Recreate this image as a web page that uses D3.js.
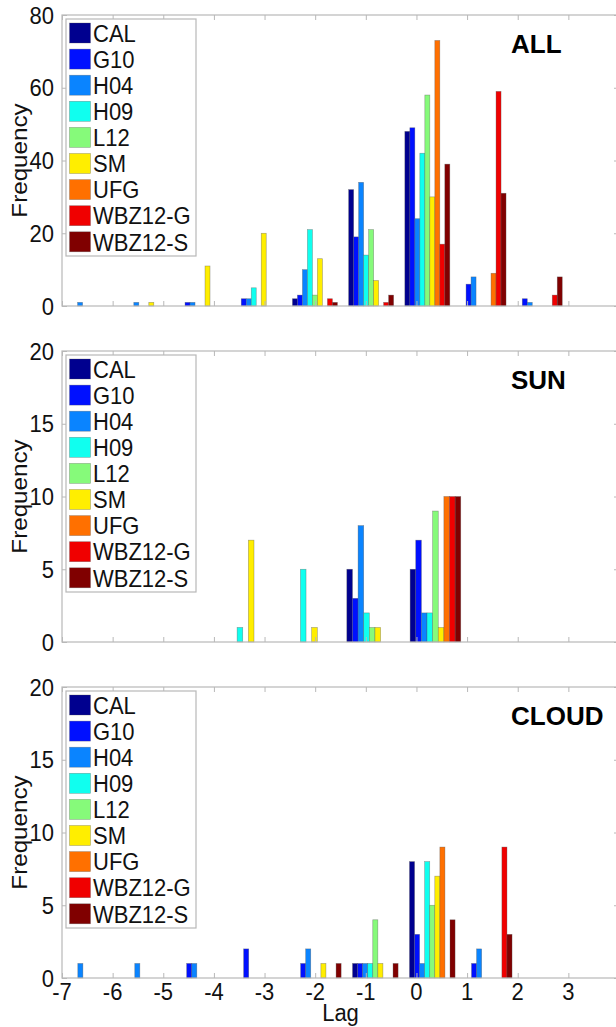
<!DOCTYPE html>
<html>
<head>
<meta charset="utf-8">
<script src="https://cdn.jsdelivr.net/npm/d3@7"></script>
<style>
  html, body { margin: 0; padding: 0; background: #fff; }
  svg { display: block; }
  text { font-family: "Liberation Sans", Arial, sans-serif; }
</style>
</head>
<body>
<svg id="chart" width="616" height="1027"></svg>
<script>
// ---------- DATA ----------
const seriesNames = ["CAL", "G10", "H04", "H09", "L12", "SM", "UFG", "WBZ12-G", "WBZ12-S"];
const seriesColors = ["#00008F", "#0010FF", "#0A84FF", "#10FFEF", "#86FA7A", "#FFEE00", "#FF7000", "#F00000", "#800000"];

const xTickValues = [-7, -6, -5, -4, -3, -2, -1, 0, 1, 2, 3, 4];
const xTickLabels = ["-7", "-6", "-5", "-4", "-3", "-2", "-1", "0", "1", "2", "3", ""];

// ALL panel: histogram bin centres and counts per series (rows follow seriesNames)
const allBins = [-6.445, -5.335, -4.225, -3.115, -2.005, -0.895, 0.215, 1.325, 2.435, 3.545];
const allCounts = [
  [0, 0, 0, 0, 2, 32, 48, 0, 0, 0],   // CAL
  [0, 0, 1, 2, 3, 19, 49, 6, 2, 0],   // G10
  [1, 1, 1, 2, 10, 34, 24, 8, 1, 0],  // H04
  [0, 0, 0, 5, 21, 14, 42, 0, 0, 0],  // H09
  [0, 0, 0, 0, 3, 21, 58, 0, 0, 0],   // L12
  [0, 1, 11, 20, 13, 7, 30, 0, 0, 0], // SM
  [0, 0, 0, 0, 0, 0, 73, 9, 0, 0],    // UFG
  [0, 0, 0, 0, 2, 1, 17, 59, 3, 0],   // WBZ12-G
  [0, 0, 0, 0, 1, 3, 39, 31, 8, 0]    // WBZ12-S
];
const allYTicks = [0, 20, 40, 60, 80];

// SUN panel
const sunBins = [-3.375, -2.125, -0.875, 0.375];
const sunCounts = [
  [0, 0, 5, 5],   // CAL
  [0, 0, 3, 7],   // G10
  [0, 0, 8, 2],   // H04
  [1, 5, 2, 2],   // H09
  [0, 0, 1, 9],   // L12
  [7, 1, 1, 1],   // SM
  [0, 0, 0, 10],  // UFG
  [0, 0, 0, 10],  // WBZ12-G
  [0, 0, 0, 10]   // WBZ12-S
];
const sunYTicks = [0, 5, 10, 15, 20];

// CLOUD panel
const cloudBins = [-6.4375, -5.3125, -4.1875, -3.0625, -1.9375, -0.8125, 0.3125, 1.4375, 2.5625, 3.6875];
const cloudCounts = [
  [0, 0, 0, 0, 0, 1, 8, 0, 0, 0],  // CAL
  [0, 0, 1, 2, 1, 1, 3, 1, 0, 0],  // G10
  [1, 1, 1, 0, 2, 1, 1, 2, 0, 0],  // H04
  [0, 0, 0, 0, 0, 1, 8, 0, 0, 0],  // H09
  [0, 0, 0, 0, 0, 4, 5, 0, 0, 0],  // L12
  [0, 0, 0, 0, 1, 1, 7, 0, 0, 0],  // SM
  [0, 0, 0, 0, 0, 0, 9, 0, 0, 0],  // UFG
  [0, 0, 0, 0, 0, 0, 0, 9, 0, 0],  // WBZ12-G
  [0, 0, 0, 0, 1, 1, 4, 3, 0, 0]   // WBZ12-S
];
const cloudYTicks = [0, 5, 10, 15, 20];

const panelTitles = ["ALL", "SUN", "CLOUD"];

// ---------- LAYOUT ----------
const svg = d3.select("#chart");
svg.append("rect").attr("width", 616).attr("height", 1027).attr("fill", "#fff");

const plotLeft = 62, plotRight = 619;
const panelTops = [15, 351, 687];
const panelH = 291;
const axisColor = "#b8b8b8";
const tickLen = 5;
const fs = 22;
const stretch = 1.1; // text in the reference is slightly taller than wide

const x = d3.scaleLinear().domain([-7, 4]).range([plotLeft, plotRight]);

function label(g, tx, ty, str, anchor, extra) {
  return g.append("text")
    .attr("transform", `translate(${tx},${ty}) scale(1,${stretch})` + (extra || ""))
    .attr("text-anchor", anchor)
    .attr("font-size", fs)
    .attr("fill", "#111")
    .text(str);
}

const panels = [
  { title: panelTitles[0], bins: allBins, counts: allCounts, yTicks: allYTicks, yMax: 80 },
  { title: panelTitles[1], bins: sunBins, counts: sunCounts, yTicks: sunYTicks, yMax: 20 },
  { title: panelTitles[2], bins: cloudBins, counts: cloudCounts, yTicks: cloudYTicks, yMax: 20 }
];

panels.forEach((p, pi) => {
  const top = panelTops[pi];
  const bottom = top + panelH;
  const y = d3.scaleLinear().domain([0, p.yMax]).range([bottom, top]);
  const g = svg.append("g");

  // bars
  const binW = p.bins[1] - p.bins[0];
  const bw = 0.8 * binW / seriesNames.length;
  const barData = [];
  p.counts.forEach((row, si) => {
    row.forEach((v, bi) => {
      if (v > 0) barData.push({ si, c: p.bins[bi], v });
    });
  });
  g.selectAll("rect.bar").data(barData).enter().append("rect")
    .attr("class", "bar")
    .attr("x", d => x(d.c + (d.si - 4) * bw - bw / 2))
    .attr("width", d => x(d.c + (d.si - 4) * bw + bw / 2) - x(d.c + (d.si - 4) * bw - bw / 2))
    .attr("y", d => y(d.v))
    .attr("height", d => y(0) - y(d.v))
    .attr("fill", d => seriesColors[d.si])
    .attr("stroke", "#555")
    .attr("stroke-opacity", 0.55)
    .attr("stroke-width", 0.6);

  // frame
  g.append("rect")
    .attr("x", plotLeft).attr("y", top)
    .attr("width", plotRight - plotLeft).attr("height", panelH)
    .attr("fill", "none").attr("stroke", axisColor).attr("stroke-width", 1.2);

  // axes (inward ticks on all sides)
  const axL = d3.axisLeft(y).tickValues(p.yTicks).tickSize(-tickLen).tickFormat("");
  const axR = d3.axisRight(y).tickValues(p.yTicks).tickSize(-tickLen).tickFormat("");
  const axT = d3.axisTop(x).tickValues(xTickValues).tickSize(-tickLen).tickFormat("");
  const axB = d3.axisBottom(x).tickValues(xTickValues).tickSize(-tickLen).tickFormat("");
  [[axL, `translate(${plotLeft},0)`], [axR, `translate(${plotRight},0)`],
   [axT, `translate(0,${top})`], [axB, `translate(0,${bottom})`]].forEach(([ax, tr]) => {
    const a = g.append("g").attr("transform", tr).call(ax);
    a.select(".domain").remove();
    a.selectAll("line").attr("stroke", axisColor).attr("stroke-width", 1);
  });

  // y tick labels
  p.yTicks.forEach(t => {
    label(g, plotLeft - 8, y(t), t, "end").attr("dy", "0.36em");
  });

  // y axis label
  label(g, 27, (top + bottom) / 2, "Frequency", "middle", " rotate(-90)");

  // panel title
  g.append("text")
    .attr("x", 511).attr("y", top + 38)
    .attr("font-size", 26).attr("font-weight", "bold")
    .attr("fill", "#000")
    .text(p.title);

  // legend
  const lg = g.append("g");
  lg.append("rect")
    .attr("x", 66).attr("y", top + 4)
    .attr("width", 130).attr("height", 237)
    .attr("fill", "#fff").attr("stroke", axisColor).attr("stroke-width", 1.2);
  seriesNames.forEach((name, i) => {
    const cy = top + 18 + i * 26.1;
    lg.append("rect")
      .attr("x", 69.5).attr("y", cy - 10)
      .attr("width", 21).attr("height", 20)
      .attr("fill", seriesColors[i])
      .attr("stroke", "#555").attr("stroke-opacity", 0.5).attr("stroke-width", 0.6);
    label(lg, 93, cy, name, "start").attr("dy", "0.36em");
  });

  // x tick labels on bottom panel only
  if (pi === panels.length - 1) {
    xTickValues.forEach((v, i) => {
      label(g, x(v), bottom + 22, xTickLabels[i], "middle");
    });
    label(g, (plotLeft + plotRight) / 2, bottom + 43, "Lag", "middle");
  }
});
</script>
</body>
</html>
